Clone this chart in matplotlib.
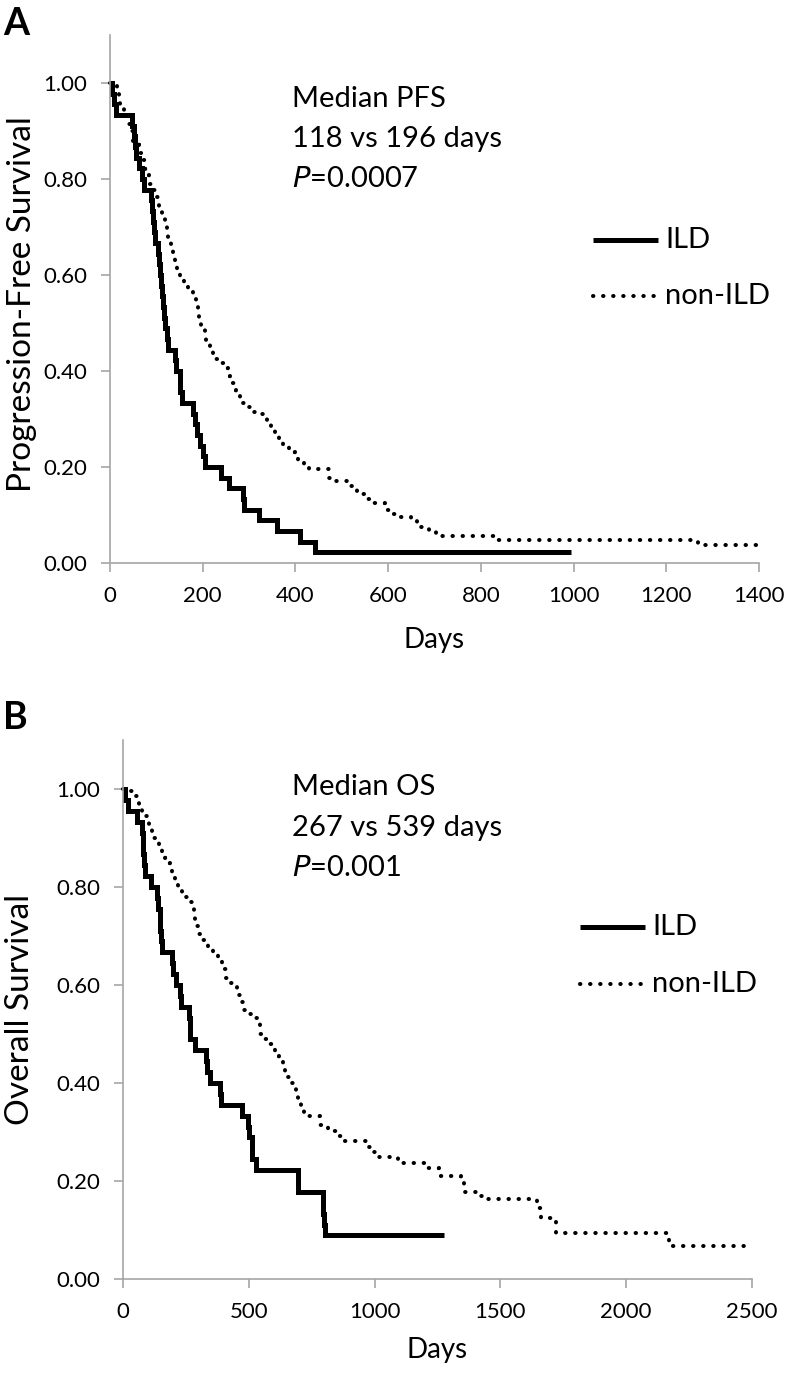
import matplotlib
matplotlib.use("Agg")
import matplotlib.pyplot as plt
from matplotlib.lines import Line2D
from matplotlib.ticker import FormatStrFormatter, MultipleLocator

plt.rcParams['font.family'] = ['Lato', 'DejaVu Sans']

# ---- Panel A: progression-free survival (days, survival) ----
ild_pfs_t = [0, 4, 8, 12, 48, 51, 54, 57, 62, 70, 74, 88, 91, 93, 95, 97, 104, 106,
             108, 110, 112, 114, 116, 118, 122, 125, 140, 143, 150, 152, 155, 180,
             184, 188, 195, 200, 205, 240, 256, 286, 289, 322, 360, 410, 442, 995]
ild_pfs_s = [1.0, 0.978, 0.956, 0.933, 0.911, 0.889, 0.867, 0.844, 0.822, 0.8,
             0.778, 0.756, 0.733, 0.711, 0.689, 0.667, 0.644, 0.622, 0.6, 0.578,
             0.556, 0.533, 0.511, 0.489, 0.467, 0.444, 0.422, 0.4, 0.378, 0.356,
             0.333, 0.311, 0.289, 0.267, 0.244, 0.222, 0.2, 0.178, 0.156, 0.133,
             0.111, 0.089, 0.067, 0.044, 0.022, 0.022]

non_pfs_t = [0, 15, 20, 22, 30, 38, 45, 50, 62, 65, 70, 75, 79, 84, 91, 97, 104,
             106, 113, 118, 122, 126, 131, 135, 140, 144, 150, 160, 168, 180, 185,
             189, 193, 196, 204, 208, 215, 222, 228, 240, 246, 254, 259, 267, 272,
             280, 292, 305, 319, 333, 338, 347, 355, 364, 374, 386, 398, 405, 419,
             430, 472, 487, 520, 532, 543, 555, 566, 593, 608, 620, 650, 663, 688,
             704, 838, 1268, 1400]
non_pfs_s = [1.0, 0.99, 0.975, 0.955, 0.935, 0.915, 0.9, 0.88, 0.87, 0.855, 0.84,
             0.82, 0.808, 0.79, 0.778, 0.762, 0.75, 0.733, 0.72, 0.70, 0.686, 0.672,
             0.656, 0.64, 0.623, 0.607, 0.592, 0.581, 0.573, 0.562, 0.545, 0.527,
             0.506, 0.495, 0.482, 0.465, 0.451, 0.437, 0.425, 0.417, 0.406, 0.39,
             0.375, 0.36, 0.347, 0.333, 0.325, 0.315, 0.31, 0.303, 0.287, 0.275,
             0.263, 0.253, 0.242, 0.231, 0.225, 0.211, 0.206, 0.195, 0.177, 0.17,
             0.16, 0.151, 0.144, 0.133, 0.125, 0.111, 0.103, 0.096, 0.087, 0.076,
             0.068, 0.057, 0.047, 0.037, 0.037]

# ---- Panel B: overall survival ----
ild_os_t = [0, 6, 18, 55, 75, 78, 80, 83, 86, 113, 134, 140, 147, 149, 151, 154,
            195, 200, 210, 228, 232, 262, 265, 267, 286, 328, 333, 346, 386, 390,
            472, 498, 500, 512, 514, 530, 694, 697, 793, 796, 800, 803, 1276]
ild_os_s = [1.0, 0.978, 0.956, 0.933, 0.911, 0.889, 0.867, 0.844, 0.822, 0.8,
            0.778, 0.756, 0.733, 0.711, 0.689, 0.667, 0.644, 0.622, 0.6, 0.578,
            0.556, 0.533, 0.511, 0.489, 0.467, 0.444, 0.422, 0.4, 0.378, 0.356,
            0.333, 0.311, 0.289, 0.267, 0.244, 0.222, 0.2, 0.178, 0.156, 0.133,
            0.111, 0.089, 0.089]

non_os_t = [0, 30, 45, 55, 65, 75, 85, 95, 105, 115, 125, 135, 145, 155, 165, 175,
            185, 195, 205, 220, 235, 250, 265, 280, 284, 288, 300, 318, 338, 358,
            378, 392, 410, 425, 440, 455, 470, 480, 500, 528, 540, 546, 565, 585,
            600, 605, 620, 635, 645, 660, 675, 688, 697, 708, 720, 783, 815, 856,
            870, 965, 985, 1005, 1092, 1200, 1255, 1345, 1355, 1415, 1430, 1645,
            1660, 1722, 2170, 2500]
non_os_s = [1.0, 0.995, 0.985, 0.975, 0.965, 0.955, 0.945, 0.935, 0.925, 0.915,
            0.90, 0.89, 0.88, 0.87, 0.86, 0.85, 0.835, 0.82, 0.81, 0.80, 0.79, 0.78,
            0.77, 0.76, 0.74, 0.72, 0.705, 0.692, 0.678, 0.664, 0.648, 0.632, 0.615,
            0.605, 0.595, 0.58, 0.565, 0.55, 0.54, 0.532, 0.52, 0.50, 0.49, 0.48,
            0.47, 0.455, 0.445, 0.43, 0.413, 0.40, 0.39, 0.378, 0.362, 0.35, 0.333,
            0.315, 0.303, 0.292, 0.282, 0.27, 0.26, 0.248, 0.236, 0.226, 0.21, 0.195,
            0.178, 0.17, 0.163, 0.144, 0.124, 0.093, 0.068, 0.068]

W, H = 786, 1373
fig = plt.figure(figsize=(W / 100, H / 100), dpi=100)

GRAY = "#a6a6a6"
SOLID = dict(color="black", lw=3.6, solid_capstyle="butt", solid_joinstyle="miter")
DOTS = dict(color="black", lw=2.9, linestyle=(0, (0.1, 2.4)), dash_capstyle="round")


def px_axes(left, right, top, bottom):
    return fig.add_axes([left / W, (H - bottom) / H, (right - left) / W, (bottom - top) / H])


def style(ax, xmax, xstep):
    ax.set_xlim(0, xmax)
    ax.set_ylim(0, 1.1)
    ax.xaxis.set_major_locator(MultipleLocator(xstep))
    ax.set_yticks([0, 0.2, 0.4, 0.6, 0.8, 1.0])
    ax.yaxis.set_major_formatter(FormatStrFormatter("%.2f"))
    for s in ["top", "right"]:
        ax.spines[s].set_visible(False)
    for s in ["left", "bottom"]:
        ax.spines[s].set_color(GRAY)
        ax.spines[s].set_linewidth(1.2)
    ax.tick_params(axis="both", colors=GRAY, labelcolor="black", labelsize=16,
                   length=6.5, width=1.2, direction="out", pad=10)


def legend(x0, x1, xt, y1, y2):
    fig.add_artist(Line2D([x0 / W, x1 / W], [(H - y1) / H] * 2, **SOLID))
    fig.add_artist(Line2D([x0 / W, x1 / W], [(H - y2) / H] * 2, **DOTS))
    fig.text(xt / W, (H - y1) / H, "ILD", fontsize=21, va="center", ha="left")
    fig.text(xt / W, (H - y2) / H, "non-ILD", fontsize=21, va="center", ha="left")


def note(x, ys, lines):
    for y, s in zip(ys, lines):
        fig.text(x / W, (H - y) / H, s, fontsize=21, va="baseline", ha="left")


# Panel A
axA = px_axes(110, 759, 35, 563)
style(axA, 1400, 200)
axA.step(ild_pfs_t, ild_pfs_s, where="post", clip_on=False, **SOLID)
axA.step(non_pfs_t, non_pfs_s, where="post", clip_on=False, **DOTS)
axA.set_ylabel("Progression-Free Survival", fontsize=24)
axA.yaxis.set_label_coords((22 - 110) / 649, 0.49)
axA.set_xlabel("Days", fontsize=20)
axA.xaxis.set_label_coords(0.5, (563 - 640) / 528)
axA.xaxis.label.set_va("center")
axA.yaxis.label.set_va("center")
note(292, [107, 147, 187], ["Median PFS", "118 vs 196 days", r"$\mathit{P}$=0.0007"])
legend(593, 658, 665, 240, 296)
fig.text(16 / W, (H - 24) / H, "A", fontsize=27, fontweight="bold", ha="center", va="center")

# Panel B
axB = px_axes(123, 752, 740, 1279)
style(axB, 2500, 500)
axB.step(ild_os_t, ild_os_s, where="post", clip_on=False, **SOLID)
axB.step(non_os_t, non_os_s, where="post", clip_on=False, **DOTS)
axB.set_ylabel("Overall Survival", fontsize=24)
axB.yaxis.set_label_coords((20 - 123) / 629, 0.5)
axB.set_xlabel("Days", fontsize=20)
axB.xaxis.set_label_coords(0.5, (1279 - 1350) / 539)
axB.xaxis.label.set_va("center")
axB.yaxis.label.set_va("center")
note(292, [795, 836, 876], ["Median OS", "267 vs 539 days", r"$\mathit{P}$=0.001"])
legend(580, 645, 652, 927, 984)
fig.text(15 / W, (H - 718) / H, "B", fontsize=27, fontweight="bold", ha="center", va="center")

fig.savefig("out.png", dpi=100)
